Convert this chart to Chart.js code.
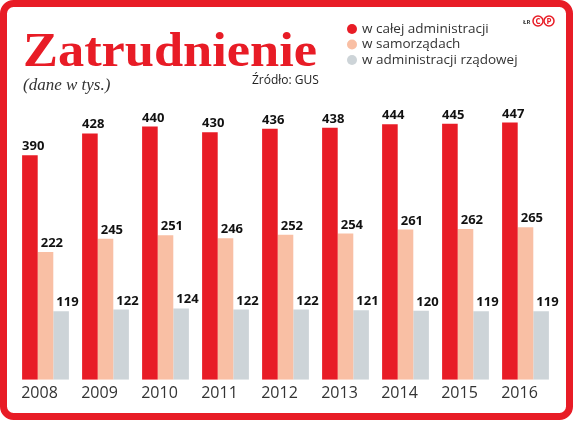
<!DOCTYPE html>
<html>
<head>
<meta charset="utf-8">
<script src="https://cdn.jsdelivr.net/npm/chart.js@4/dist/chart.umd.min.js"></script>
<style>
  html, body { margin: 0; padding: 0; background: #fff; }
  #wrap { width: 577px; height: 443px; }
</style>
</head>
<body>
<div id="wrap"><canvas id="zatrudnienie" width="577" height="443"></canvas></div>
<script>
const years = ['2008', '2009', '2010', '2011', '2012', '2013', '2014', '2015', '2016'];
const wCalejAdministracji = [390, 428, 440, 430, 436, 438, 444, 445, 447];
const wSamorzadach = [222, 245, 251, 246, 252, 254, 261, 262, 265];
const wAdministracjiRzadowej = [119, 122, 124, 122, 122, 121, 120, 119, 119];

const RED = '#e81c26';
const PINK = '#f9bfa4';
const GREY = '#cdd4d8';

// frame, title, legend - everything outside the plot area
const header = {
    id: 'header',
    beforeDraw(chart) {
        const ctx = chart.ctx;
        ctx.save();
        ctx.fillStyle = '#fff';
        ctx.fillRect(0, 0, chart.width, chart.height);

        ctx.strokeStyle = RED;
        ctx.lineWidth = 7;
        ctx.beginPath();
        ctx.roundRect(3.5, 3.5, 566, 413, 10);
        ctx.stroke();

        ctx.textAlign = 'left';
        ctx.textBaseline = 'alphabetic';
        ctx.fillStyle = RED;
        ctx.font = 'bold 48px "Liberation Serif"';
        const title = 'Zatrudnienie';
        const tw = ctx.measureText(title).width;
        ctx.save();
        ctx.translate(23, 66);
        ctx.scale(294 / tw, 1);
        ctx.fillText(title, 0, 0);
        ctx.restore();

        ctx.fillStyle = '#333';
        ctx.font = 'italic 17px "Liberation Serif"';
        ctx.fillText('(dane w tys.)', 23, 90);

        ctx.fillStyle = '#222';
        ctx.font = '12px "Open Sans"';
        ctx.fillText('Źródło: GUS', 252, 84);

        // legend
        ctx.font = '13.5px "Open Sans"';
        chart.data.datasets.forEach((ds, i) => {
            const y = 29 + i * 15.5;
            ctx.fillStyle = ds.backgroundColor;
            ctx.beginPath();
            ctx.arc(352, y, 5, 0, Math.PI * 2);
            ctx.fill();
            ctx.fillStyle = '#333';
            ctx.textBaseline = 'middle';
            ctx.fillText(ds.label, 362, y);
        });

        // logo
        ctx.textBaseline = 'alphabetic';
        ctx.fillStyle = '#333';
        ctx.font = 'bold 6px "Open Sans"';
        ctx.fillText('ŁR', 523, 24);
        ctx.strokeStyle = RED;
        ctx.lineWidth = 1.5;
        ctx.fillStyle = RED;
        ctx.font = 'bold 8px "Open Sans"';
        ctx.textAlign = 'center';
        ctx.textBaseline = 'middle';
        [['C', 538], ['P', 549]].forEach(([t, x]) => {
            ctx.beginPath();
            ctx.arc(x, 21, 5, 0, Math.PI * 2);
            ctx.stroke();
            ctx.fillText(t, x, 21.5);
        });
        ctx.restore();
    }
};

const valueLabels = {
    id: 'valueLabels',
    afterDatasetsDraw(chart) {
        const ctx = chart.ctx;
        ctx.save();
        ctx.fillStyle = '#111';
        ctx.font = 'bold 13px "Open Sans"';
        ctx.textAlign = 'left';
        ctx.textBaseline = 'alphabetic';
        chart.data.datasets.forEach((ds, i) => {
            const shift = i === 0 ? 0 : 3;
            chart.getDatasetMeta(i).data.forEach((bar, j) => {
                ctx.fillText(ds.data[j], bar.x - bar.width / 2 + shift, bar.y - 5);
            });
        });
        ctx.restore();
    }
};

new Chart(
    document.getElementById('zatrudnienie'),
    {
        type: 'bar',
        data: {
            labels: years,
            datasets: [
                {
                    label: 'w całej administracji',
                    data: wCalejAdministracji,
                    backgroundColor: RED
                }, {
                    label: 'w samorządach',
                    data: wSamorzadach,
                    backgroundColor: PINK
                }, {
                    label: 'w administracji rządowej',
                    data: wAdministracjiRzadowej,
                    backgroundColor: GREY
                }
            ]
        },
        options: {
            responsive: false,
            animation: false,
            devicePixelRatio: 1,
            layout: {
                padding: { left: 15.5, right: 21.5, top: 92, bottom: 36 }
            },
            datasets: {
                bar: {
                    categoryPercentage: 0.78,
                    barPercentage: 1.0
                }
            },
            plugins: {
                legend: { display: false },
                tooltip: { enabled: false }
            },
            scales: {
                x: {
                    grid: { display: false, drawTicks: false },
                    border: { display: false },
                    ticks: {
                        color: '#333',
                        font: { family: 'Open Sans', size: 16 },
                        padding: 4,
                        labelOffset: -6,
                        maxRotation: 0
                    }
                },
                y: {
                    display: false,
                    min: 0,
                    max: 500
                }
            }
        },
        plugins: [header, valueLabels]
    }
);
</script>
</body>
</html>
